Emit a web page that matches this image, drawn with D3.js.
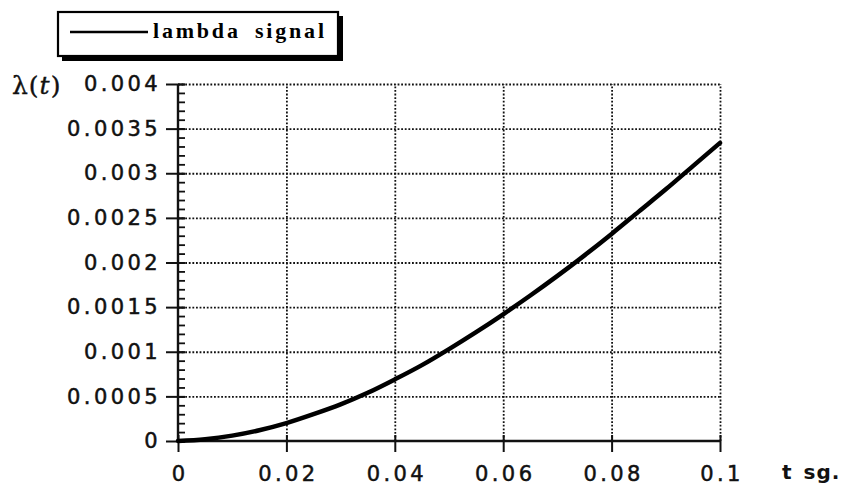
<!DOCTYPE html>
<html>
<head>
<meta charset="utf-8">
<script src="https://cdn.jsdelivr.net/npm/d3@7/dist/d3.min.js"></script>
<style>
  body { margin: 0; background: #fff; }
  svg { display: block; }
  .tick text { font-family: "DejaVu Sans", sans-serif; font-size: 21px; letter-spacing: 3.4px; fill: #111; stroke: #111; stroke-width: 0.5px; }
</style>
</head>
<body>
<div id="chart"></div>
<script>
// data
var tValues = [0, 0.005, 0.01, 0.015, 0.02, 0.025, 0.03, 0.035, 0.04, 0.045, 0.05,
               0.055, 0.06, 0.065, 0.07, 0.075, 0.08, 0.085, 0.09, 0.095, 0.1];
var lambdaValues = [0, 0.00002, 0.00006, 0.00012, 0.0002, 0.0003, 0.00041, 0.00054, 0.00069, 0.00085, 0.00103,
                    0.00122, 0.00142, 0.00163, 0.00185, 0.00208, 0.00232, 0.00257, 0.00282, 0.00308, 0.00334];
var xTicks = [0, 0.02, 0.04, 0.06, 0.08, 0.1];
var xTickLabels = ["0", "0.02", "0.04", "0.06", "0.08", "0.1"];
var yTicks = [0, 0.0005, 0.001, 0.0015, 0.002, 0.0025, 0.003, 0.0035, 0.004];
var yTickLabels = ["0", "0.0005", "0.001", "0.0015", "0.002", "0.0025", "0.003", "0.0035", "0.004"];
var yMinorTicks = d3.range(0, 41).map(function(i) { return i * 0.0001; });
var legendLabel = "lambda signal";

var data = tValues.map(function(t, i) { return { t: t, v: lambdaValues[i] }; });

var W = 842, H = 486,
    margin = {top: 84, right: 122, bottom: 45, left: 178},
    width = W - margin.left - margin.right,
    height = H - margin.top - margin.bottom;

var svg = d3.select("#chart").append("svg")
    .attr("width", W)
    .attr("height", H);

var g = svg.append("g")
    .attr("transform", "translate(" + margin.left + "," + margin.top + ")");

var x = d3.scaleLinear().domain([0, 0.1]).range([0, width]);
var y = d3.scaleLinear().domain([0, 0.004]).range([height, 0]);

// dotted grid
g.append("g")
    .attr("class", "grid")
    .call(d3.axisLeft(y).tickValues(yTicks.slice(1)).tickSize(-width).tickFormat(""))
    .call(function(s) { s.select(".domain").remove(); });
g.append("g")
    .attr("class", "grid")
    .attr("transform", "translate(0," + height + ")")
    .call(d3.axisBottom(x).tickValues(xTicks.slice(1)).tickSize(-height).tickFormat(""))
    .call(function(s) { s.select(".domain").remove(); });
g.selectAll(".grid line")
    .attr("stroke", "#111")
    .attr("stroke-width", 1.8)
    .attr("stroke-dasharray", "1.8,1.8");

// y minor ticks (inside)
g.append("g")
    .call(d3.axisLeft(y).tickValues(yMinorTicks).tickSize(-7).tickFormat(""))
    .call(function(s) {
      s.select(".domain").remove();
      s.selectAll("line").attr("stroke", "#111").attr("stroke-width", 1.8);
    });

// y axis
var yAxis = g.append("g")
    .call(d3.axisLeft(y).tickValues(yTicks).tickFormat(function(d, i) { return yTickLabels[i]; }).tickSize(12).tickPadding(8));
yAxis.select(".domain").attr("d", "M0," + height + "V0").attr("stroke", "#111").attr("stroke-width", 2.4);
yAxis.selectAll(".tick line").attr("x1", 7).attr("x2", -12).attr("stroke", "#111").attr("stroke-width", 2);
yAxis.selectAll(".tick text").attr("dx", "3px");

// x axis
var xAxis = g.append("g")
    .attr("transform", "translate(0," + height + ")")
    .call(d3.axisBottom(x).tickValues(xTicks).tickFormat(function(d, i) { return xTickLabels[i]; }).tickSize(11).tickPadding(14));
xAxis.select(".domain").attr("d", "M0,0H" + width).attr("stroke", "#111").attr("stroke-width", 2.4);
xAxis.selectAll(".tick line").attr("y1", -6).attr("y2", 11).attr("stroke", "#111").attr("stroke-width", 2);
xAxis.selectAll(".tick text").attr("dx", "1.5px");

// curve
var line = d3.line()
    .x(function(d) { return x(d.t); })
    .y(function(d) { return y(d.v); })
    .curve(d3.curveMonotoneX);

g.append("path")
    .datum(data)
    .attr("fill", "none")
    .attr("stroke", "#000")
    .attr("stroke-width", 4.5)
    .attr("stroke-linecap", "round")
    .attr("d", line);

// axis titles
svg.append("text")
    .attr("x", 12)
    .attr("y", 94)
    .attr("font-family", "DejaVu Serif, serif")
    .attr("font-size", 25)
    .attr("letter-spacing", "1px")
    .attr("fill", "#111")
    .attr("stroke", "#111")
    .attr("stroke-width", 0.4)
    .html('λ(<tspan font-style="italic">t</tspan>)');

svg.append("text")
    .attr("x", 782)
    .attr("y", 479)
    .attr("font-family", "DejaVu Sans, sans-serif")
    .attr("font-weight", "bold")
    .attr("font-size", 20)
    .attr("letter-spacing", "1px")
    .attr("word-spacing", "3px")
    .attr("fill", "#111")
    .text("t sg.");

// legend box with shadow
var legend = svg.append("g").attr("transform", "translate(58,12)");
legend.append("rect")
    .attr("x", 4).attr("y", 4)
    .attr("width", 281).attr("height", 45)
    .attr("fill", "#000");
legend.append("rect")
    .attr("x", 0).attr("y", 0)
    .attr("width", 280).attr("height", 44)
    .attr("fill", "#fff")
    .attr("stroke", "#000")
    .attr("stroke-width", 2.2);
legend.append("line")
    .attr("x1", 12).attr("x2", 90)
    .attr("y1", 20).attr("y2", 20)
    .attr("stroke", "#000")
    .attr("stroke-width", 2.4);
legend.append("text")
    .attr("x", 95)
    .attr("y", 26)
    .attr("font-family", "Liberation Serif, serif")
    .attr("font-weight", "bold")
    .attr("font-size", 22)
    .attr("letter-spacing", "2.8px")
    .attr("word-spacing", "6px")
    .attr("fill", "#000")
    .text(legendLabel);
</script>
</body>
</html>
